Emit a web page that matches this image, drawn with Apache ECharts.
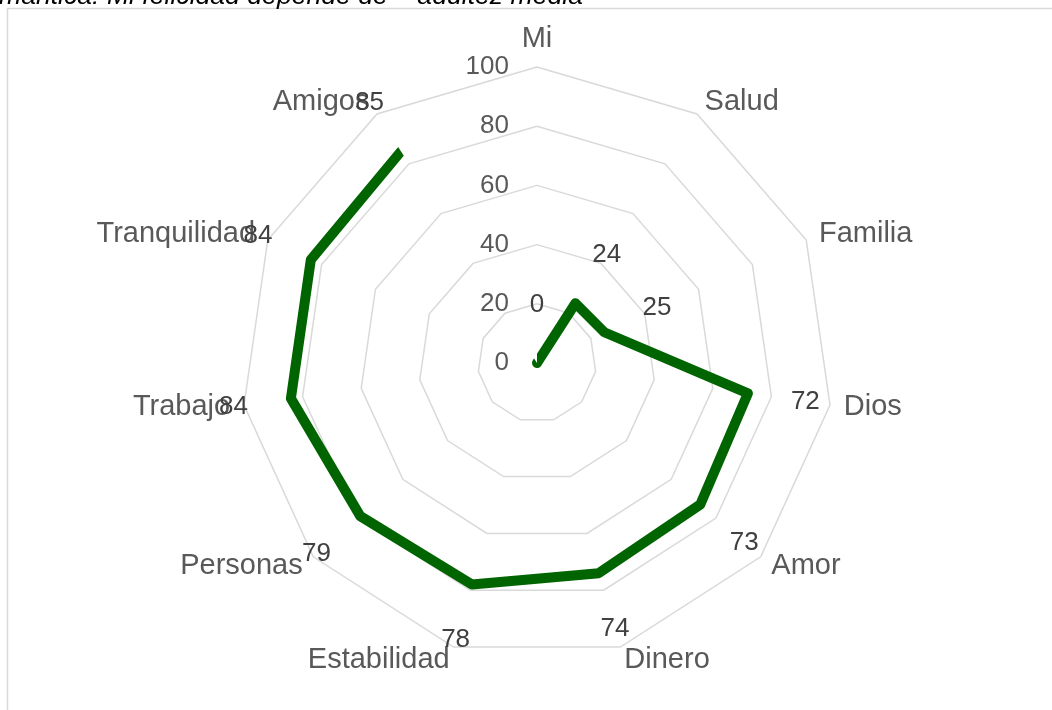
<!DOCTYPE html>
<html><head><meta charset="utf-8">
<script src="https://cdn.jsdelivr.net/npm/echarts@6/dist/echarts.min.js"></script>
<style>html,body{margin:0;padding:0;background:#fff}#c{width:1052px;height:710px}</style>
</head><body><div id="c"></div>
<script>
const categories = ['Mi','Salud','Familia','Dios','Amor','Dinero','Estabilidad','Personas','Trabajo','Tranquilidad','Amigos'];
const values = [0,24,25,72,73,74,78,79,84,84,85];
const tickLabels = ['0','20','40','60','80','100'];
const titleText = 'mántica: Mi felicidad depende de – adultez media';

const FONT = '"Liberation Sans", Arial, sans-serif';
const center = [537, 363];
const radius = 296;
const n = categories.length;
// radar indicators are laid out counter-clockwise; reorder so they read clockwise
const radarOrder = [0].concat(categories.slice(1).map((_, i) => n - 1 - i));
const indicator = radarOrder.map(i => ({ name: categories[i], min: 0, max: 100 }));
const labelDist = 58;

const chart = echarts.init(document.getElementById('c'), null, { renderer: 'canvas' });
chart.setOption({
  animation: false,
  backgroundColor: '#fff',
  textStyle: { fontFamily: FONT },
  graphic: [
    { type: 'rect', shape: { x: 7.5, y: 8.5, width: 1200, height: 900 }, style: { fill: 'none', stroke: '#d9d9d9', lineWidth: 1.5 }, silent: true },
    { type: 'text', style: { text: titleText, x: -1, y: -3, font: 'italic 26.6px ' + FONT, fill: '#000', verticalAlign: 'middle', align: 'left' }, silent: true }
  ],
  radar: {
    center: center, radius: radius, startAngle: 90, shape: 'polygon', splitNumber: 5,
    indicator: indicator,
    nameGap: 14,
    axisName: { color: '#595959', fontSize: 29, fontFamily: FONT },
    splitLine: { lineStyle: { color: '#d9d9d9', width: 1.5 } },
    splitArea: { show: false },
    axisLine: { show: false },
    axisTick: { show: false },
    axisLabel: { show: false }
  },
  polar: { center: center, radius: radius },
  angleAxis: { type: 'category', data: categories, startAngle: 90, clockwise: true, boundaryGap: false, show: false },
  radiusAxis: {
    type: 'value', min: 0, max: 100, interval: 20,
    axisLine: { show: false }, axisTick: { show: false }, splitLine: { show: false },
    axisLabel: { show: true, fontSize: 26, color: '#595959', margin: 28, fontFamily: FONT,
      formatter: v => tickLabels[Math.round(v / 20)] }
  },
  series: [{
    type: 'line', coordinateSystem: 'polar', silent: true,
    data: values.map((v, i) => {
      const a = i / n * Math.PI * 2;
      return { value: v, label: { offset: [labelDist * Math.sin(a), -labelDist * Math.cos(a)] } };
    }),
    symbol: 'circle', symbolSize: 1, showSymbol: true,
    itemStyle: { color: 'rgba(0,0,0,0)' },
    lineStyle: { color: '#006400', width: 10, cap: 'round', join: 'round' },
    label: { show: true, position: 'inside', fontSize: 26, color: '#404040', fontFamily: FONT }
  }]
});
</script>
</body></html>
